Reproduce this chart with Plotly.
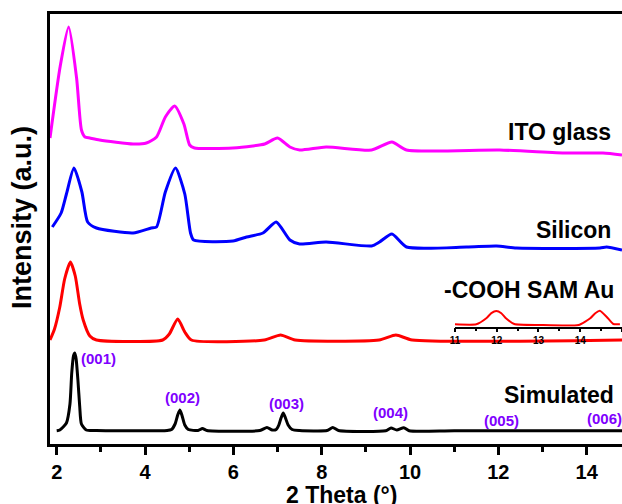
import plotly.graph_objects as go

# ---- data (2 Theta in degrees, intensity in arbitrary offset units) ----
sim_x = [2.0, 2.07, 2.22, 2.3, 2.34, 2.38, 2.41, 2.44, 2.48, 2.52, 2.56, 2.67, 2.9,
         4.5, 4.6, 4.68, 4.74, 4.79, 4.84, 4.9, 4.98, 5.2, 5.3, 5.4,
         6.6, 6.76, 6.88, 6.97, 7.03, 7.08, 7.13, 7.18, 7.24, 7.33, 7.5,
         8.12, 8.25, 8.38, 9.45, 9.57, 9.7, 9.86, 9.98, 11.0, 14.8]
sim_y = [13.3, 14, 21, 40, 71, 88, 91, 85, 64, 38, 20, 14, 13.5,
         13.5, 14.5, 20, 29, 34, 28, 19, 14.5, 13.5, 15.5, 13.5,
         13.5, 16.5, 14, 14.5, 19, 26, 31, 26, 19, 14.5, 13.5,
         13.5, 16.5, 13.5, 13.3, 16, 14, 16.3, 13.3, 13.3, 13.3]

cooh_x = [1.848, 1.95, 2.07, 2.18, 2.31, 2.42, 2.52, 2.6, 2.75, 2.9,
          4.4, 4.55, 4.74, 4.9, 5.05, 6.7, 7.07, 7.4, 9.3, 9.68, 10.05, 14.8]
cooh_y = [104, 115, 137, 165, 182, 168, 140, 124, 108, 104,
          104, 110, 125, 112, 104, 104, 109, 104, 104, 109, 104, 104]

si_x = [1.9, 2.1, 2.22, 2.39, 2.57, 2.7, 2.9, 3.73, 4.14, 4.26, 4.46,
        4.69, 4.9, 5.03, 5.1, 5.99, 6.3, 6.67, 6.97, 7.28, 7.5, 8.1, 9.13,
        9.31, 9.59, 9.92, 11.28, 11.96, 12.41, 14.3, 14.45, 14.8]
si_y = [217, 231, 250, 276, 252, 222, 216, 211, 216, 217, 252,
        276, 250, 211, 204, 203, 207, 211, 222, 204, 200, 202, 198,
        202, 210, 197, 197, 198, 196, 196, 197, 194]

ito_x = [1.848, 2.08, 2.27, 2.45, 2.56, 2.64, 2.75, 2.97, 3.73, 4.03, 4.26,
         4.46, 4.67, 4.88, 5.01, 5.12, 5.99, 6.44, 6.71, 7.0, 7.28, 7.5,
         8.1, 9.13, 9.59, 9.92, 12.03, 13.54, 14.37, 14.8]
ito_y = [306, 378, 417, 366, 314, 307, 306, 304, 300, 301, 307,
         327, 338, 320, 299, 296, 296, 298, 300, 306, 297, 294,
         297, 294, 302, 294, 294, 291, 291, 289]

inset_x = [11.0, 11.51, 11.75, 11.87, 11.99, 12.11, 12.22, 12.42, 13.01, 13.96,
           14.24, 14.36, 14.47, 14.63, 14.79, 14.95]
inset_y = [2.4, 2.4, 8.4, 13.5, 15.7, 13.5, 8.4, 2.7, 1.7, 1.7,
           8.4, 13.5, 16, 10, 2.7, 2.4]

curve_names = ["ITO glass", "Silicon", "-COOH SAM Au", "Simulated"]
hkl_labels = ["(001)", "(002)", "(003)", "(004)", "(005)", "(006)"]
hkl_x = [2.95, 4.85, 7.21, 9.56, 12.08, 14.41]
hkl_y = [86, 47, 41, 32, 24, 26]

FONT = "Liberation Sans, Arial, sans-serif"

fig = go.Figure()
series = [(ito_x, ito_y, "#ff00ff"), (si_x, si_y, "#0000ff"),
          (cooh_x, cooh_y, "#ff0000"), (sim_x, sim_y, "#000000")]
for (xs, ys, col), name in zip(series, curve_names):
    fig.add_trace(go.Scatter(x=xs, y=ys, mode="lines", name=name,
                             line=dict(color=col, width=3, shape="spline", smoothing=0.6),
                             showlegend=False, hoverinfo="skip"))

fig.add_trace(go.Scatter(x=inset_x, y=inset_y, mode="lines", xaxis="x2", yaxis="y2",
                         line=dict(color="#ff0000", width=2, shape="spline", smoothing=0.5),
                         showlegend=False, hoverinfo="skip"))

annotations = []
label_pos = [(14.60, 312), (14.60, 214), (14.66, 154), (14.66, 49)]
for name, (lx, ly) in zip(curve_names, label_pos):
    annotations.append(dict(x=lx, y=ly, xref="x", yref="y", text="<b>%s</b>" % name,
                            showarrow=False, xanchor="right", yanchor="middle",
                            font=dict(family=FONT, size=23, color="black")))
for t, hx, hy in zip(hkl_labels, hkl_x, hkl_y):
    annotations.append(dict(x=hx, y=hy, xref="x", yref="y", text="<b>%s</b>" % t,
                            showarrow=False, xanchor="center", yanchor="middle",
                            font=dict(family=FONT, size=15, color="#8000ff")))
annotations.append(dict(x=-0.049, y=0.528, xref="paper", yref="paper",
                        text="<b>Intensity (a.u.)</b>", textangle=-90, showarrow=False,
                        xanchor="center", yanchor="middle",
                        font=dict(family=FONT, size=27, color="black")))
annotations.append(dict(x=0.509, y=-0.118, xref="paper", yref="paper",
                        text="<b>2 Theta (°)</b>", showarrow=False,
                        xanchor="center", yanchor="middle",
                        font=dict(family=FONT, size=23, color="black")))

fig.update_layout(
    width=622, height=504,
    margin=dict(l=50, r=0, t=14, b=60),
    paper_bgcolor="white", plot_bgcolor="white",
    xaxis=dict(range=[1.848, 14.80], tick0=2, dtick=2, ticks="outside", ticklen=8,
               tickwidth=3, tickcolor="black", showline=True, linewidth=3,
               linecolor="black", mirror=True, showgrid=False, zeroline=False,
               tickfont=dict(family=FONT, size=20, color="black", weight="bold"),
               minor=dict(ticks="outside", ticklen=5, tickwidth=3, tickcolor="black",
                          tick0=1, dtick=1, showgrid=False)),
    yaxis=dict(range=[0, 430], showline=True, linewidth=3, linecolor="black",
               showticklabels=False, ticks="", showgrid=False, zeroline=False),
    xaxis2=dict(domain=[0.708, 1.0], anchor="y2", range=[11, 15.0], dtick=1,
                ticks="outside", ticklen=4, tickwidth=1.5, tickcolor="black",
                showline=True, linewidth=1.5, linecolor="black", showgrid=False,
                zeroline=False,
                tickfont=dict(family=FONT, size=10, color="black", weight="bold"),
                minor=dict(ticks="outside", ticklen=3, tickwidth=1.5,
                           tickcolor="black", dtick=0.5, showgrid=False)),
    yaxis2=dict(domain=[0.2728, 0.324], anchor="x2", range=[0, 22], visible=False),
    annotations=annotations,
)

fig.write_html("out.html")
